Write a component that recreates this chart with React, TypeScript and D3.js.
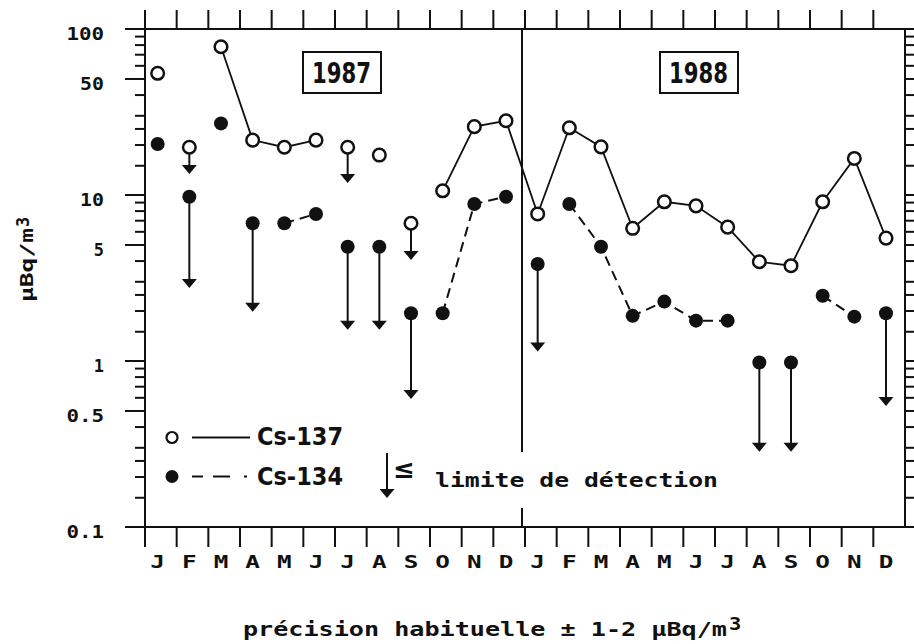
import React from "react";
import * as d3 from "d3";

const months = ["J","F","M","A","M","J","J","A","S","O","N","D","J","F","M","A","M","J","J","A","S","O","N","D"];
const years = ["1987", "1988"];
const cs137 = [54.1,19.4,78.2,21.4,19.4,21.4,19.4,17.4,6.76,10.6,25.8,28.0,7.69,25.4,19.5,6.3,9.1,8.6,6.4,3.96,3.75,9.1,16.6,5.5];
const cs134 = [20.3,9.77,27.0,6.76,6.76,7.69,4.88,4.88,1.94,1.94,8.83,9.77,3.84,8.83,4.88,1.87,2.28,1.75,1.75,0.98,0.98,2.47,1.85,1.94];
// arrow tip values for "<= detection limit" (null = no arrow)
const cs137Limit = [null,13.4,null,null,null,null,11.8,null,4.06,null,null,null,null,null,null,null,null,null,null,null,null,null,null,null];
const cs134Limit = [null,2.75,null,1.98,null,null,1.54,1.54,0.59,null,null,null,1.14,null,null,null,null,null,null,0.284,0.284,null,null,0.535];
// connected runs (start index, end index)
const cs137Runs = [[2,5],[9,23]];
const cs134Runs = [[4,5],[9,11],[13,18],[21,22]];
const yTickValues = [100,50,10,5,1,0.5,0.1];
const yTickLabels = ["100","50","10","5","1","0.5","0.1"];
const minorMultipliers = [1.5,2,2.5,3,4,6,7,8,9];
const decades = [0.1,1,10];
const legendLabels = ["Cs-137","Cs-134"];
const limitLabel = "limite de détection";
const xTitle = "précision habituelle ± 1-2 µBq/m";
const yTitle = "µBq/m";

const MONO = "'DejaVu Sans Mono', monospace";
const NARROW = "'Liberation Sans Narrow', 'DejaVu Sans Condensed', sans-serif";

export default function App() {
  const W = 914, H = 644;
  const L = 145, R = 905, T = 29, B = 527;
  const x = d3.scaleLinear().domain([0, 24]).range([L, R]);
  const y = d3.scaleLog().domain([0.1, 100]).range([B, T]);
  const px = (i: number) => x(i + 0.4);

  const minorTicks: number[] = [];
  decades.forEach((d) => minorMultipliers.forEach((m) => minorTicks.push(d * m)));

  const makeLine = (vals: number[]) =>
    d3.line<number>().x((i) => px(i)).y((i) => y(vals[i]));

  const runIdx = (r: number[]) => d3.range(r[0], r[1] + 1);

  const arrow = (i: number, from: number, tip: number, key: string) => {
    const cx = px(i);
    const ty = y(tip);
    return (
      <g key={key}>
        <line x1={cx} x2={cx} y1={y(from)} y2={ty - 8} stroke="#111" strokeWidth={2} />
        <path d={`M${cx - 7.5},${ty - 9}L${cx + 7.5},${ty - 9}L${cx},${ty}Z`} fill="#111" />
      </g>
    );
  };

  const divX = x(12) - 3;

  return (
    <svg width={W} height={H} style={{ position: "absolute", left: 0, top: 0, background: "#fff" }}>
      <rect x={0} y={0} width={W} height={H} fill="#fff" />
      {/* frame */}
      <g stroke="#111" strokeWidth={2} fill="none">
        <line x1={L} x2={L} y1={T} y2={B} />
        <line x1={R} x2={R} y1={T} y2={B} />
        <line x1={L - 20} x2={R} y1={T} y2={T} />
        <line x1={L - 20} x2={R} y1={B} y2={B} />
      </g>
      {/* x ticks top & bottom */}
      <g stroke="#111" strokeWidth={2}>
        {d3.range(0, 24).map((k) => (
          <g key={"xt" + k}>
            <line x1={x(k)} x2={x(k)} y1={T - 19} y2={T} />
            <line x1={x(k)} x2={x(k)} y1={B} y2={B + 20} />
          </g>
        ))}
      </g>
      {/* y ticks */}
      <g stroke="#111" strokeWidth={2}>
        {yTickValues.map((v) => (
          <g key={"ym" + v}>
            <line x1={L - 20} x2={L} y1={y(v)} y2={y(v)} />
            <line x1={R} x2={R + 12} y1={y(v)} y2={y(v)} />
          </g>
        ))}
        {minorTicks.map((v) => (
          <g key={"yn" + v}>
            <line x1={L - 10} x2={L} y1={y(v)} y2={y(v)} />
            <line x1={R} x2={R + 10} y1={y(v)} y2={y(v)} />
          </g>
        ))}
      </g>
      {/* y tick labels */}
      <g fontFamily={MONO} fontWeight="bold" fontSize={17} fill="#111" textAnchor="end">
        {yTickValues.map((v, k) => (
          <text
            key={"yl" + v}
            x={104}
            y={y(v) + 11}
            textLength={13.7 * yTickLabels[k].length - 3.5}
            lengthAdjust="spacingAndGlyphs"
          >
            {yTickLabels[k]}
          </text>
        ))}
      </g>
      {/* month labels */}
      <g fontFamily={MONO} fontWeight="bold" fontSize={18} fill="#111" textAnchor="middle">
        {months.map((m, i) => (
          <text key={"m" + i} transform={`translate(${px(i)},568) scale(1.35,1)`}>
            {m}
          </text>
        ))}
      </g>
      {/* divider */}
      <line x1={divX} x2={divX} y1={T} y2={452} stroke="#111" strokeWidth={2} />
      <line x1={divX} x2={divX} y1={508} y2={B} stroke="#111" strokeWidth={2} />
      {/* year boxes */}
      {years.map((yr, k) => {
        const bx = k === 0 ? 303 : 660;
        return (
          <g key={yr}>
            <rect x={bx} y={52} width={78} height={41} fill="#fff" stroke="#111" strokeWidth={2} />
            <text x={bx + 9} y={83} fontFamily={NARROW} fontWeight="bold" fontSize={29} textLength={59} lengthAdjust="spacingAndGlyphs" fill="#111">
              {yr}
            </text>
          </g>
        );
      })}
      {/* lines */}
      {cs137Runs.map((r, k) => (
        <path key={"l137" + k} d={makeLine(cs137)(runIdx(r)) || ""} fill="none" stroke="#111" strokeWidth={1.8} />
      ))}
      {cs134Runs.map((r, k) => (
        <path key={"l134" + k} d={makeLine(cs134)(runIdx(r)) || ""} fill="none" stroke="#111" strokeWidth={2} strokeDasharray="10,6" />
      ))}
      {/* arrows */}
      {cs137Limit.map((t, i) => (t == null ? null : arrow(i, cs137[i], t, "a137" + i)))}
      {cs134Limit.map((t, i) => (t == null ? null : arrow(i, cs134[i], t, "a134" + i)))}
      {/* markers */}
      {cs134.map((v, i) => (
        <circle key={"p134" + i} cx={px(i)} cy={y(v)} r={7} fill="#111" />
      ))}
      {cs137.map((v, i) => (
        <circle key={"p137" + i} cx={px(i)} cy={y(v)} r={6.3} fill="#fff" stroke="#111" strokeWidth={2.5} />
      ))}
      {/* legend */}
      <circle cx={172} cy={437.5} r={5.5} fill="#fff" stroke="#111" strokeWidth={2.2} />
      <line x1={192} x2={250} y1={437.5} y2={437.5} stroke="#111" strokeWidth={2} />
      <text x={257} y={445} fontFamily={NARROW} fontWeight="bold" fontSize={24} textLength={86} lengthAdjust="spacingAndGlyphs" fill="#111">
        {legendLabels[0]}
      </text>
      <circle cx={172} cy={476.5} r={6.5} fill="#111" />
      <line x1={192} x2={203} y1={476.5} y2={476.5} stroke="#111" strokeWidth={2} />
      <line x1={213} x2={230} y1={476.5} y2={476.5} stroke="#111" strokeWidth={2} />
      <line x1={244} x2={247} y1={476.5} y2={476.5} stroke="#111" strokeWidth={2} />
      <text x={257} y={485} fontFamily={NARROW} fontWeight="bold" fontSize={24} textLength={86} lengthAdjust="spacingAndGlyphs" fill="#111">
        {legendLabels[1]}
      </text>
      <line x1={387} x2={387} y1={453} y2={490} stroke="#111" strokeWidth={2} />
      <path d="M379.5,489L394.5,489L387,498Z" fill="#111" />
      <text x={404} y={478} fontFamily="'DejaVu Sans', sans-serif" fontWeight="bold" fontSize={26} textAnchor="middle" fill="#111">≤</text>
      <text x={435} y={486.5} fontFamily={MONO} fontWeight="bold" fontSize={19.5} textLength={283} lengthAdjust="spacingAndGlyphs" fill="#111">
        {limitLabel}
      </text>
      {/* x title */}
      <text x={243} y={636} fontFamily={MONO} fontWeight="bold" fontSize={19.5} textLength={484} lengthAdjust="spacingAndGlyphs" fill="#111">
        {xTitle}
      </text>
      <text x={729} y={630} fontFamily={MONO} fontWeight="bold" fontSize={17} fill="#111" transform="translate(729,0) scale(1.2,1) translate(-729,0)">3</text>
      {/* y title */}
      <g transform="translate(33,302) rotate(-90)">
        <text x={0} y={0} fontFamily={MONO} fontWeight="bold" fontSize={18.5} textLength={74} lengthAdjust="spacingAndGlyphs" fill="#111">
          {yTitle}
        </text>
        <text x={75} y={-4} fontFamily={MONO} fontWeight="bold" fontSize={17} fill="#111">3</text>
      </g>
    </svg>
  );
}
